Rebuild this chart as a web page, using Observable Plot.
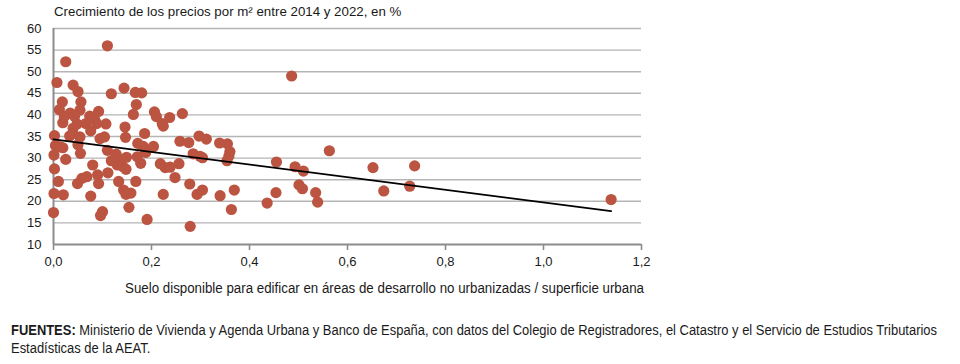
<!DOCTYPE html>
<html>
<head>
<meta charset="utf-8">
<script src="https://cdn.jsdelivr.net/npm/d3@7"></script>
<script src="https://cdn.jsdelivr.net/npm/@observablehq/plot@0.6"></script>
<style>
  html, body { margin: 0; padding: 0; background: #fff; }
  #wrap { position: relative; width: 960px; height: 364px; overflow: hidden; font-family: "Liberation Sans", Arial, sans-serif; color: #1a1a1a; }
  #chart { position: absolute; left: 0; top: 0; }
  .t { position: absolute; white-space: nowrap; transform-origin: 0 50%; }
  #title { left: 54px; top: 4px; font-size: 13.3px; }
  #xlabel { left: 125px; top: 280px; font-size: 14px; }
  .foot { left: 11px; font-size: 14px; }
  #f1 { top: 322px; }
  #f2 { top: 340px; }
</style>
</head>
<body>
<div id="wrap">
  <div id="chart"></div>
  <div class="t" id="title">Crecimiento de los precios por m² entre 2014 y 2022, en %</div>
  <div class="t" id="xlabel" data-w="519">Suelo disponible para edificar en áreas de desarrollo no urbanizadas / superficie urbana</div>
  <div class="t foot" id="f1" data-w="926"><b>FUENTES:</b> Ministerio de Vivienda y Agenda Urbana y Banco de España, con datos del Colegio de Registradores, el Catastro y el Servicio de Estudios Tributarios</div>
  <div class="t foot" id="f2" data-w="140">Estadísticas de la AEAT.</div>
</div>
<script>
// Suelo disponible / superficie urbana (x) and price growth 2014-2022 in % (y)
const sueloRatio = [
  0.110, 0.025, 0.007, 0.486, 0.040, 0.050, 0.118, 0.144, 0.167, 0.180,
  0.018, 0.056, 0.169, 0.012, 0.054, 0.092, 0.034, 0.043, 0.074, 0.084,
  0.163, 0.206, 0.210, 0.222, 0.224, 0.237, 0.263, 0.019, 0.022, 0.048,
  0.066, 0.088, 0.107, 0.146, 0.040, 0.076, 0.186, 0.002, 0.033, 0.039,
  0.054, 0.095, 0.104, 0.147, 0.297, 0.312, 0.258, 0.276, 0.339, 0.355,
  0.004, 0.014, 0.019, 0.050, 0.172, 0.183, 0.204, 0.188, 0.360, 0.358,
  0.354, 0.110, 0.001, 0.055, 0.128, 0.285, 0.299, 0.304, 0.171, 0.149,
  0.025, 0.118, 0.135, 0.130, 0.142, 0.148, 0.178, 0.218, 0.228, 0.238,
  0.256, 0.455, 0.493, 0.510, 0.563, 0.652, 0.737, 0.080, 0.002, 0.248,
  0.058, 0.068, 0.090, 0.111, 0.010, 0.049, 0.092, 0.133, 0.168, 0.278,
  0.501, 0.508, 0.727, 0.674, 0.001, 0.020, 0.076, 0.143, 0.148, 0.158,
  0.224, 0.293, 0.304, 0.340, 0.369, 0.454, 0.535, 0.436, 0.539, 1.138,
  0.154, 0.363, 0.000, 0.100, 0.096, 0.191, 0.279
];
const crecimiento = [
  56.0, 52.3, 47.5, 49.0, 46.9, 45.4, 44.9, 46.2, 45.2, 45.1,
  43.0, 43.0, 42.4, 41.2, 41.1, 40.8, 40.4, 39.7, 39.7, 38.9,
  40.1, 40.7, 39.6, 38.0, 37.4, 39.4, 40.3, 38.2, 39.6, 37.9,
  38.0, 38.0, 37.9, 37.2, 36.9, 36.3, 35.7, 35.2, 35.1, 35.7,
  34.9, 34.5, 34.9, 34.8, 35.1, 34.4, 33.9, 33.6, 33.5, 33.3,
  32.9, 32.6, 32.4, 33.1, 33.4, 32.7, 32.7, 31.3, 31.5, 30.5,
  29.4, 31.8, 30.7, 31.1, 30.9, 31.0, 30.4, 30.1, 30.3, 30.2,
  29.7, 29.4, 29.6, 28.4, 28.0, 27.4, 28.8, 28.7, 27.8, 27.9,
  28.7, 29.1, 28.0, 27.0, 31.7, 27.8, 28.2, 28.4, 27.5, 25.5,
  25.3, 25.7, 26.1, 26.6, 24.6, 24.1, 24.1, 24.6, 24.6, 24.0,
  23.8, 22.9, 23.5, 22.4, 21.8, 21.5, 21.2, 22.6, 21.6, 21.9,
  21.6, 21.6, 22.6, 21.3, 22.6, 22.0, 22.0, 19.6, 19.8, 20.4,
  18.6, 18.1, 17.4, 17.6, 16.7, 15.8, 14.2
];
const xTicks = [0, 0.2, 0.4, 0.6, 0.8, 1.0, 1.2];
const yTicks = [10, 15, 20, 25, 30, 35, 40, 45, 50, 55, 60];

const points = sueloRatio.map((x, i) => ({x, y: crecimiento[i]}));
const fmt = d => d.toFixed(1).replace(".", ",");

const chart = Plot.plot({
  width: 960,
  height: 300,
  marginTop: 28,
  marginLeft: 53,
  marginRight: 319,
  marginBottom: 56,
  style: {fontFamily: "Liberation Sans, Arial, sans-serif", color: "#1a1a1a", background: "transparent"},
  x: {domain: [0, 1.2]},
  y: {domain: [10, 60]},
  marks: [
    Plot.gridY(yTicks.filter(d => d > 10), {stroke: "#b5b5b5", strokeOpacity: 1, strokeWidth: 1.4}),
    Plot.axisY({ticks: yTicks, tickSize: 0, tickPadding: 12, fontSize: 13, label: null}),
    Plot.axisX({ticks: xTicks, tickSize: 6, stroke: "#8c8c8c", strokeWidth: 1.6, tickPadding: 6, fontSize: 13,
      tickFormat: fmt, label: null}),
    Plot.ruleX([0], {stroke: "#8c8c8c", strokeWidth: 2}),
    Plot.ruleY([10], {stroke: "#8c8c8c", strokeWidth: 2}),
    Plot.dot(points, {x: "x", y: "y", r: 5.6, fill: "#bb5440", stroke: "none"}),
    Plot.linearRegressionY(points, {x: "x", y: "y", stroke: "#000", strokeWidth: 1.8, ci: 0})
  ]
});
document.getElementById("chart").appendChild(chart);

// condense the narrow-font texts to their reference widths
for (const id of ["xlabel", "f1"]) {
  const el = document.getElementById(id);
  const w = el.getBoundingClientRect().width;
  const target = +el.dataset.w;
  el.style.transform = `scaleX(${target / w})`;
  if (id === "f1") document.getElementById("f2").style.transform = `scaleX(${target / w})`;
}
// x tick labels: same condensed look
chart.querySelectorAll('g[aria-label="x-axis tick label"] text').forEach(t => {
  const x = t.getAttribute("x") || 0;
});
</script>
</body>
</html>
